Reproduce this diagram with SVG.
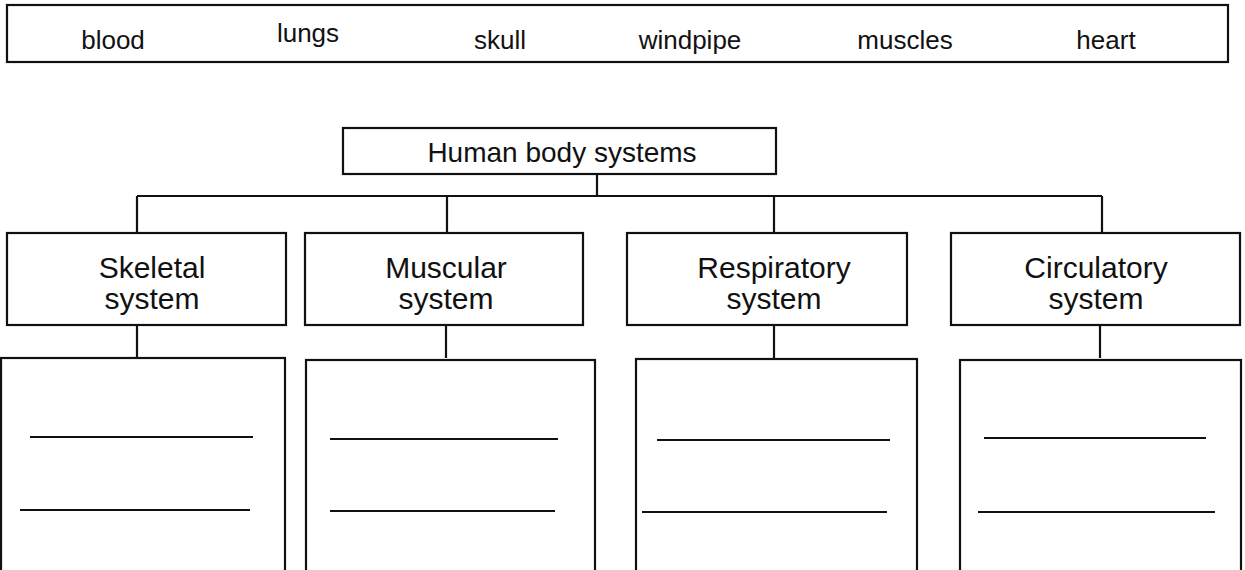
<svg xmlns="http://www.w3.org/2000/svg" width="1245" height="570" viewBox="0 0 1245 570">
<style>
.box{fill:none;stroke:#111;stroke-width:2.2}
.ln{fill:none;stroke:#111;stroke-width:2.2}
.t{font-family:"Liberation Sans",Arial,sans-serif;fill:#111;text-anchor:middle}
.w{font-size:26px}
.h{font-size:28px}
.s{font-size:30px}
</style>
<rect width="1245" height="570" fill="#fff"/>
<g id="wordbank">
<rect class="box" x="7" y="5" width="1221" height="57"/>
<text class="t w" x="113" y="49">blood</text>
<text class="t w" x="308" y="42">lungs</text>
<text class="t w" x="500" y="49">skull</text>
<text class="t w" x="690" y="49">windpipe</text>
<text class="t w" x="905" y="49">muscles</text>
<text class="t w" x="1106" y="49">heart</text>
</g>
<g id="connectors">
<path class="ln" d="M597 174V196M137 196H1102M137 196V233M447 196V233M774 196V233M1102 196V233"/>
<path class="ln" d="M137 325V358M446 325V358M774 325V358M1100 325V358"/>
</g>
<g id="root">
<rect class="box" x="343" y="128" width="433" height="46"/>
<text class="t h" x="562" y="162">Human body systems</text>
</g>
<g id="skeletal">
<rect class="box" x="7" y="233" width="279" height="92"/>
<text class="t s" x="152" y="278">Skeletal</text>
<text class="t s" x="152" y="309">system</text>
</g>
<g id="muscular">
<rect class="box" x="305" y="233" width="278" height="92"/>
<text class="t s" x="446" y="278">Muscular</text>
<text class="t s" x="446" y="309">system</text>
</g>
<g id="respiratory">
<rect class="box" x="627" y="233" width="280" height="92"/>
<text class="t s" x="774" y="278">Respiratory</text>
<text class="t s" x="774" y="309">system</text>
</g>
<g id="circulatory">
<rect class="box" x="951" y="233" width="289" height="92"/>
<text class="t s" x="1096" y="278">Circulatory</text>
<text class="t s" x="1096" y="309">system</text>
</g>
<g id="answer1">
<rect class="box" x="1" y="358" width="284" height="220"/>
<path class="ln" d="M30 437H253M20 510H250"/>
</g>
<g id="answer2">
<rect class="box" x="306" y="360" width="289" height="220"/>
<path class="ln" d="M330 439H558M330 511H555"/>
</g>
<g id="answer3">
<rect class="box" x="636" y="359" width="281" height="220"/>
<path class="ln" d="M657 440H890M642 512H887"/>
</g>
<g id="answer4">
<rect class="box" x="960" y="360" width="281" height="220"/>
<path class="ln" d="M984 438H1206M978 512H1215"/>
</g>
</svg>
